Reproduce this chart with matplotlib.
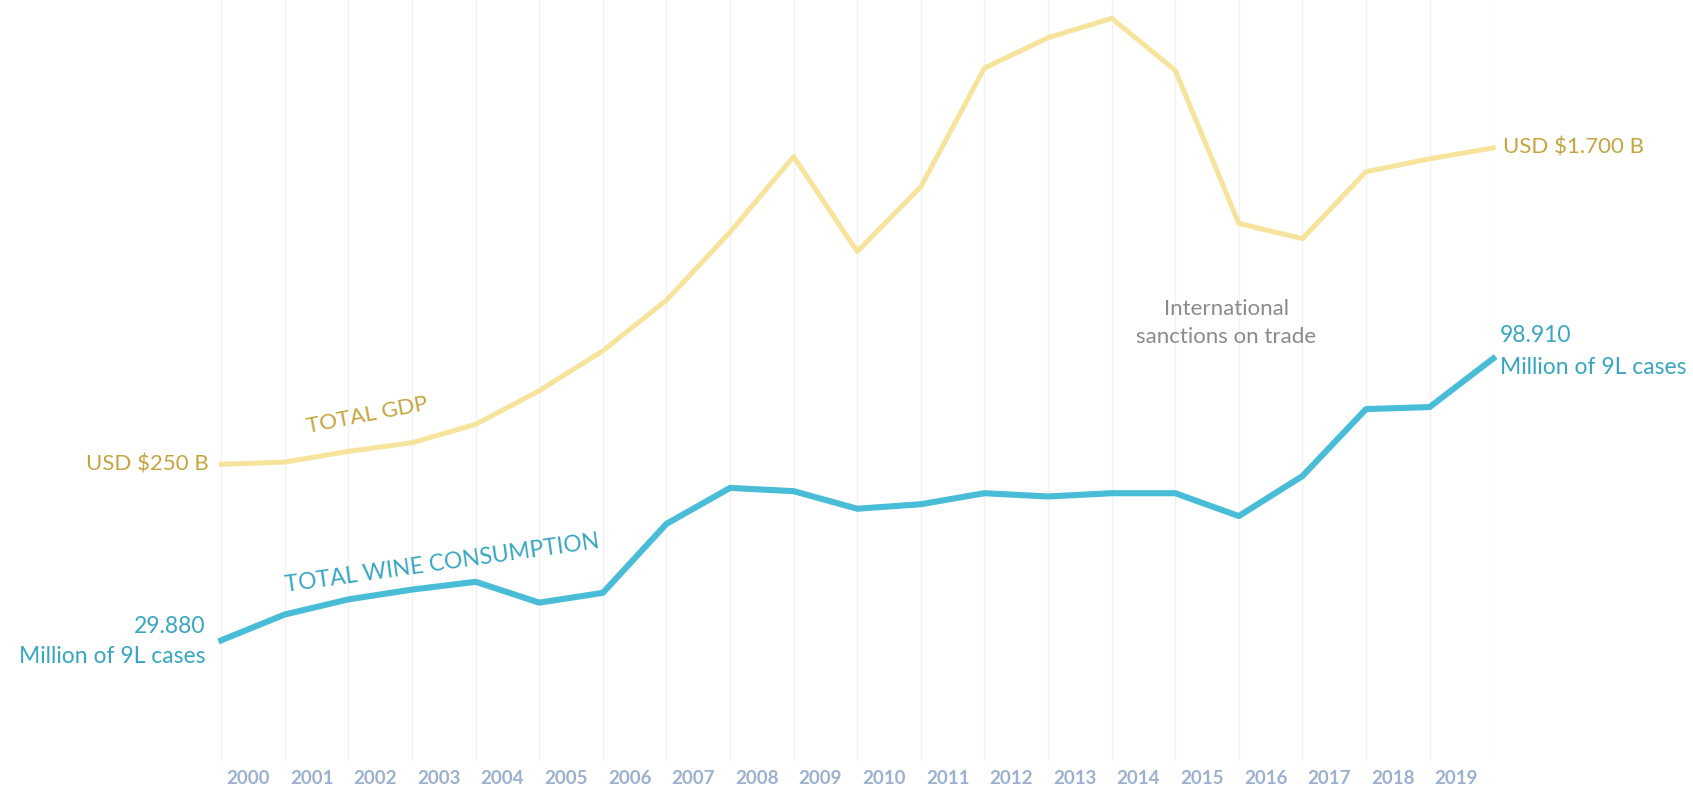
import numpy as np
import matplotlib.pyplot as plt

plt.rcParams['font.family'] = ['Lato', 'DejaVu Sans']

# values (21 points, 20 year labels between them)
gdp = [250, 260, 309, 349, 433, 587, 770, 1002, 1314, 1660, 1225,
       1522, 2066, 2205, 2294, 2056, 1354, 1284, 1591, 1650, 1700]
wine = [29.88, 36.2, 39.9, 42.3, 44.2, 39.1, 41.5, 58.4, 67.2, 66.4, 62.1,
        63.2, 65.9, 65.1, 65.9, 65.9, 60.3, 70.1, 86.5, 87.0, 98.91]
years = [str(y) for y in range(2000, 2020)]

gdp_line = '#F6E49C'
gdp_text = '#C4A53E'
wine_line = '#49BDD8'
wine_text = '#38A6C2'
year_col = '#9CB0CF'

fig = plt.figure(figsize=(16.93, 7.85), dpi=100)
ax = fig.add_axes([0.1307, 0.0303, 0.7513, 0.9697])
ax2 = ax.twinx()

x = np.arange(len(gdp))

# faint vertical grid
for xi in x:
    ax.axvline(xi, color='#F1F1F1', lw=1, zorder=0)

ax.plot(x, gdp, color=gdp_line, lw=3.6, clip_on=False, zorder=3)
ax2.plot(x, wine, color=wine_line, lw=4.4, clip_on=False, zorder=3)

ax.set_xlim(0, 20)
ax.set_ylim(-1111, 2378)
ax2.set_ylim(0.26, 186.7)

ax.set_xticks(x[:-1] + 0.42)
ax.set_xticklabels(years, fontsize=13.5, color=year_col, fontweight='bold')
ax.tick_params(axis='x', length=0, pad=6)
ax.set_yticks([])
ax2.set_yticks([])
for a in (ax, ax2):
    for s in a.spines.values():
        s.set_visible(False)

# end labels
ax.text(-0.2, gdp[0], 'USD $250 B', ha='right', va='center',
        fontsize=16, color=gdp_text)
ax.text(20.15, gdp[-1], 'USD $1.700 B', ha='left', va='center',
        fontsize=16, color=gdp_text)
ax2.text(-0.25, wine[0] + 3.4, '29.880', ha='right', va='center',
         fontsize=16.5, color=wine_text)
ax2.text(-0.25, wine[0] - 4.0, 'Million of 9L cases', ha='right', va='center',
         fontsize=16.5, color=wine_text)
ax2.text(20.1, wine[-1] + 5.5, '98.910', ha='left', va='center',
         fontsize=16.5, color=wine_text)
ax2.text(20.1, wine[-1] - 2.2, 'Million of 9L cases', ha='left', va='center',
         fontsize=16.5, color=wine_text)

# series names along the lines
ax.text(2.29, 473, 'TOTAL GDP', ha='center', va='center', rotation=11,
        fontsize=16, color=gdp_text)
ax2.text(3.48, 48.7, 'TOTAL WINE CONSUMPTION', ha='center', va='center',
         rotation=8, fontsize=16.5, color=wine_text)

ax2.text(15.8, 107.5, 'International\nsanctions on trade', ha='center',
         va='center', fontsize=16, color='#8A8A8A', linespacing=1.5)

fig.savefig('out.png', dpi=100, facecolor='white')
